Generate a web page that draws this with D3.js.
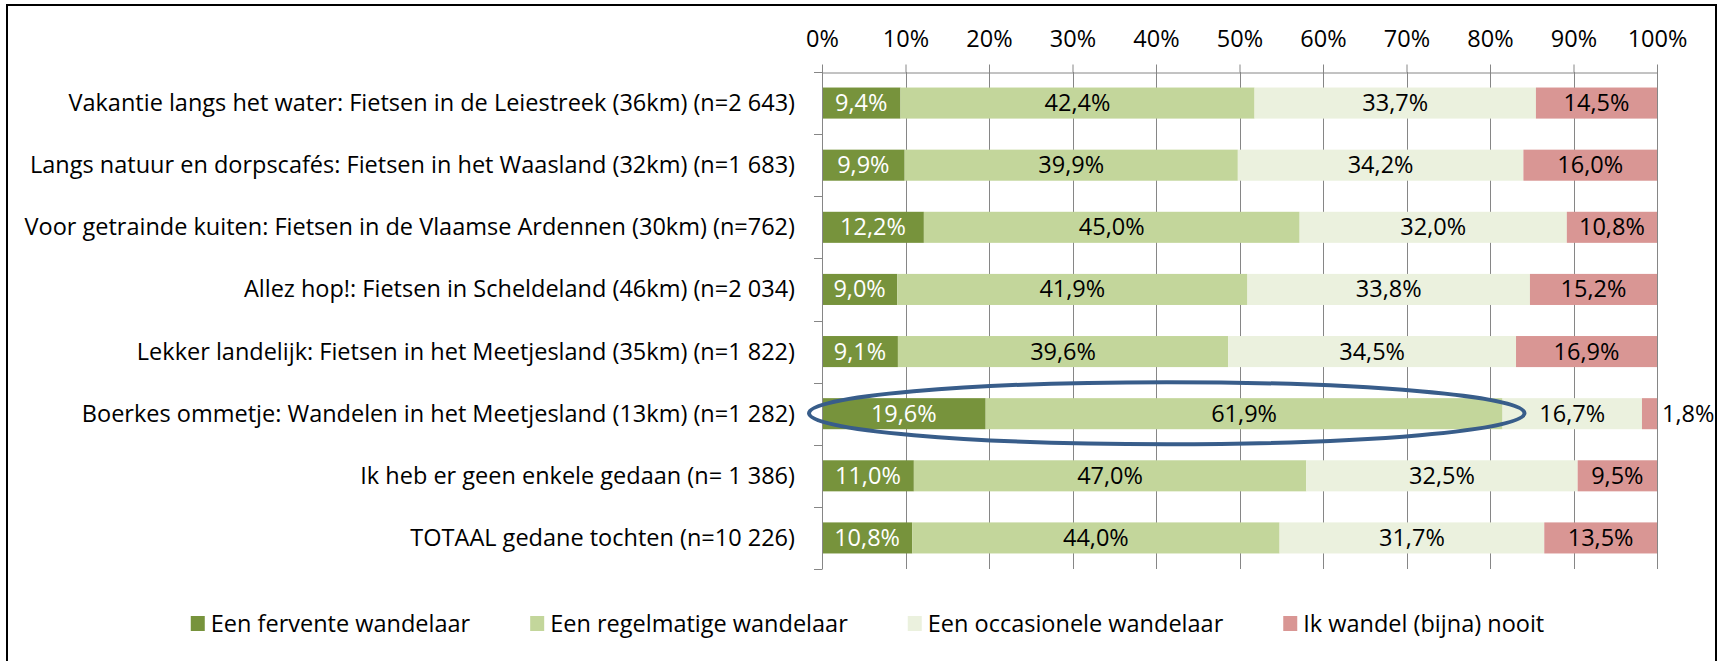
<!DOCTYPE html>
<html><head><meta charset="utf-8">
<script src="https://cdn.jsdelivr.net/npm/d3@7"></script>
<style>
html,body{margin:0;padding:0;background:#fff;}
svg{display:block;}
text{font-family:"Open Sans",Lato,sans-serif;}
</style></head>
<body>
<svg id="chart" width="1723" height="661"></svg>
<script>
const categories = [
  "Vakantie langs het water: Fietsen in de Leiestreek (36km) (n=2 643)",
  "Langs natuur en dorpscafés: Fietsen in het Waasland (32km) (n=1 683)",
  "Voor getrainde kuiten: Fietsen in de Vlaamse Ardennen (30km) (n=762)",
  "Allez hop!: Fietsen in Scheldeland (46km) (n=2 034)",
  "Lekker landelijk: Fietsen in het Meetjesland (35km) (n=1 822)",
  "Boerkes ommetje: Wandelen in het Meetjesland (13km) (n=1 282)",
  "Ik heb er geen enkele gedaan (n= 1 386)",
  "TOTAAL gedane tochten (n=10 226)"
];
const seriesNames = ["Een fervente wandelaar","Een regelmatige wandelaar","Een occasionele wandelaar","Ik wandel (bijna) nooit"];
const fervent     = [9.4, 9.9, 12.2, 9.0, 9.1, 19.6, 11.0, 10.8];
const regelmatig  = [42.4, 39.9, 45.0, 41.9, 39.6, 61.9, 47.0, 44.0];
const occasioneel = [33.7, 34.2, 32.0, 33.8, 34.5, 16.7, 32.5, 31.7];
const nooit       = [14.5, 16.0, 10.8, 15.2, 16.9, 1.8, 9.5, 13.5];
const tickValues  = [0,0.1,0.2,0.3,0.4,0.5,0.6,0.7,0.8,0.9,1];
const tickLabels  = ["0%","10%","20%","30%","40%","50%","60%","70%","80%","90%","100%"];
const highlighted = "Boerkes ommetje: Wandelen in het Meetjesland (13km) (n=1 282)";

const colors = ["#77933C","#C3D69B","#EBF1DE","#D99694"];
const labelColors = ["#FFFFFF","#000000","#000000","#000000"];
const seriesData = [fervent, regelmatig, occasioneel, nooit];
const keys = seriesNames;
const fs = 23.5;

const rows = categories.map((c,i)=>{
  const o = {cat:c};
  keys.forEach((k,j)=>o[k]=seriesData[j][i]);
  return o;
});
const stack = d3.stack().keys(keys).offset(d3.stackOffsetExpand);
const stacked = stack(rows);

const svg = d3.select("#chart");

// frame
svg.append("rect").attr("x",7).attr("y",5).attr("width",1709).attr("height",700)
  .attr("fill","none").attr("stroke","#000").attr("stroke-width",2);

const x = d3.scaleLinear().domain([0,1]).range([822,1657]);
const y = d3.scaleBand().domain(categories).range([72,569]).paddingInner(0.5).paddingOuter(0.25);
const gridColor = "#868686";

// gridlines
svg.append("g").selectAll("line").data(tickValues.slice(1)).join("line")
  .attr("x1",d=>Math.round(x(d))+0.5).attr("x2",d=>Math.round(x(d))+0.5)
  .attr("y1",72).attr("y2",569).attr("stroke",gridColor).attr("stroke-width",1);

// bars
const g = svg.append("g");
stacked.forEach((s,si)=>{
  g.append("g").attr("fill",colors[si]).selectAll("rect").data(s).join("rect")
    .attr("x",d=>x(d[0])).attr("width",d=>x(d[1])-x(d[0]))
    .attr("y",d=>y(d.data.cat)).attr("height",y.bandwidth());
});

// top axis
const xAxis = d3.axisTop(x).tickValues(tickValues).tickFormat((d,i)=>tickLabels[i]).tickSize(8).tickSizeOuter(0).tickPadding(18);
const ax = svg.append("g").attr("transform","translate(0,72.5)").call(xAxis);
ax.select(".domain").attr("stroke",gridColor);
ax.selectAll(".tick line").attr("stroke",gridColor);
ax.selectAll(".tick text").attr("font-size",fs).attr("fill","#000").attr("font-family",null);

// left axis
const boundaries = d3.range(categories.length+1).map(i=>72 + i*(569-72)/categories.length);
svg.append("line").attr("x1",822.5).attr("x2",822.5).attr("y1",72).attr("y2",569).attr("stroke",gridColor);
svg.append("g").selectAll("line").data(boundaries).join("line")
  .attr("x1",814).attr("x2",822.5).attr("y1",d=>Math.round(d)+0.5).attr("y2",d=>Math.round(d)+0.5)
  .attr("stroke",gridColor);
svg.append("g").selectAll("text").data(categories).join("text")
  .attr("x",795).attr("y",d=>y(d)+y.bandwidth()/2).attr("dy","0.34em")
  .attr("text-anchor","end").attr("font-size",fs).attr("fill","#000").text(d=>d);

// data labels
const fmt = v => d3.format(".1f")(v).replace(".",",") + "%";
stacked.forEach((s,si)=>{
  s.forEach((d,i)=>{
    const v = seriesData[si][i];
    const x0 = x(d[0]), x1 = x(d[1]);
    const t = svg.append("text").attr("font-size",fs).attr("y",y(d.data.cat)+y.bandwidth()/2).attr("dy","0.34em").text(fmt(v));
    if (x1 - x0 < 30) {
      t.attr("x", x1 + 5).attr("text-anchor","start").attr("fill","#000");
    } else {
      t.attr("x",(x0+x1)/2).attr("text-anchor","middle").attr("fill",labelColors[si]);
    }
  });
});

// highlight ellipse
const hi = rows.find(r=>r.cat===highlighted);
const endReg = (hi[keys[0]]+hi[keys[1]])/d3.sum(keys,k=>hi[k]);
const left = x(0)-13, right = x(endReg)+22;
svg.append("ellipse")
  .attr("cx",(left+right)/2).attr("cy",y(highlighted)+y.bandwidth()/2 - 0.5)
  .attr("rx",(right-left)/2).attr("ry",(y.step())/2)
  .attr("fill","none").attr("stroke","#385D8A").attr("stroke-width",4);

// legend
const lg = svg.append("g");
let lx = 0;
seriesNames.forEach((n,i)=>{
  const it = lg.append("g").attr("transform",`translate(${lx},0)`);
  it.append("rect").attr("x",0).attr("y",-7.5).attr("width",14).attr("height",15).attr("fill",colors[i]);
  const t = it.append("text").attr("x",20).attr("y",0).attr("dy","0.34em").attr("font-size",fs).attr("fill","#000").text(n);
  const tw = t.node().getComputedTextLength();
  lx += 20 + tw + 60;
});
const totalW = lx - 60;
lg.attr("transform",`translate(${(192+1543)/2 - totalW/2},623.5)`);
</script>
</body></html>
